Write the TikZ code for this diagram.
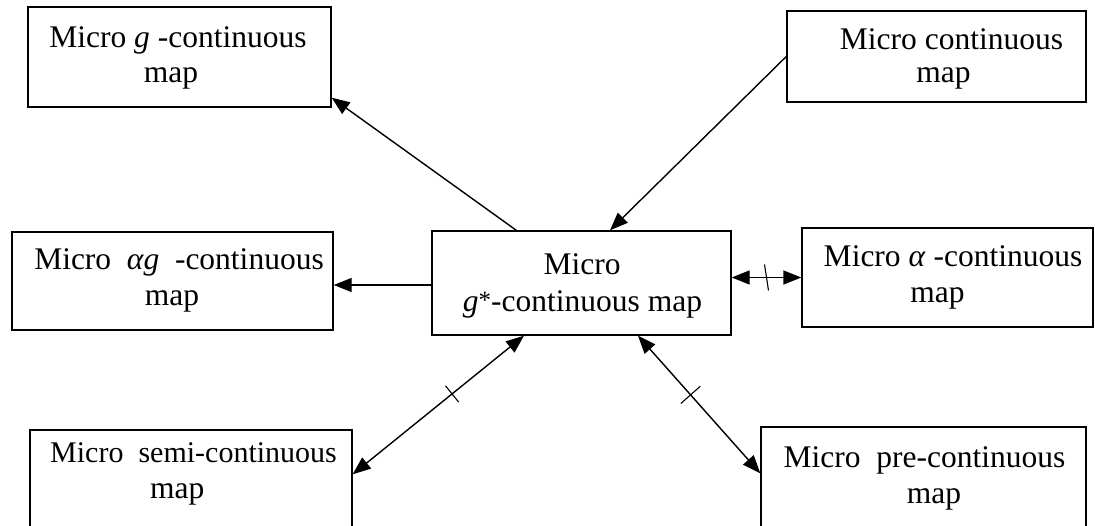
\documentclass[tikz,border=0pt]{standalone}
\usepackage{fontspec}
\setmainfont{Liberation Serif}
\usetikzlibrary{arrows.meta,calc}
\begin{document}
\begin{tikzpicture}[x=1pt,y=-1pt,
  box/.style={draw, line width=1.4pt, inner sep=0pt},
  txt/.style={inner sep=0pt, anchor=base, font=\fontsize{31.5}{37}\selectfont},
  txtl/.style={txt, anchor=base west},
  arr/.style={line width=1.4pt, -{Triangle[length=18pt,width=14pt]}},
  darr/.style={line width=1.4pt, {Triangle[length=18pt,width=14pt]}-{Triangle[length=18pt,width=14pt]}},
  tickmark/.style={line width=1.1pt}]
\clip (0,0) rectangle (1095,526);
% boxes
\node[box, minimum width=303pt, minimum height=100pt] (g) at (179.5,57) {};
\node[box, minimum width=299pt, minimum height=91pt] (cont) at (936.5,56.5) {};
\node[box, minimum width=321pt, minimum height=98pt] (ag) at (172.5,281) {};
\node[box, minimum width=299pt, minimum height=104pt] (c) at (581.5,283) {};
\node[box, minimum width=291pt, minimum height=99pt] (a) at (947.5,277.5) {};
\node[box, minimum width=322pt, minimum height=130pt] (semi) at (191,495) {};
\node[box, minimum width=325pt, minimum height=133pt] (pre) at (923.5,493.5) {};
% texts
\node[txt] (g1) at (178,48) {Micro \textit{g} -continuous};
\node[txt] (g2) at (171,83) {map};
\node[txt] (cont1) at (951.5,50) {Micro continuous};
\node[txt] (cont2) at (943.5,83) {map};
\node[txt] (ag1) at (179,270) {Micro\ \ \textit{αg}\ \ -continuous};
\node[txt] (ag2) at (172,306) {map};
\node[txt] (c1) at (582,275) {Micro};
\node[txt] (c2) at (582.5,312) {\textit{g}\raisebox{0.12em}{\fontsize{25}{25}\selectfont *}-continuous map};
\node[txt] (a1) at (953,267) {Micro \textit{α} -continuous};
\node[txt] (a2) at (937.5,303) {map};
\node[txtl, font=\fontsize{30}{36}\selectfont] (semi1) at (50,462) {Micro\ \ semi-continuous};
\node[txtl] (semi2) at (150,498) {map};
\node[txt] (pre1) at (924.5,467) {Micro\ \ pre-continuous};
\node[txt] (pre2) at (934,503) {map};
% connectors
\draw[arr] ([xshift=85pt]c.north west) -- ([yshift=10pt]g.south east);
\draw[arr] (cont.west) -- ([xshift=28.5pt]c.north);
\draw[arr] ([yshift=-2pt]c.west) -- ([yshift=-2pt]c.west -| ag.east);
\draw[darr] (c.east |- a.west) -- coordinate (t1) (a.west);
\draw[tickmark] ($(t1)+(-2,-13)$) -- ($(t1)+(2,13)$);
\draw[darr] ([xshift=-57.5pt]c.south) -- coordinate[pos=0.42] (t2) ([yshift=-45pt]semi.north east);
\draw[tickmark] ($(t2)!10.5pt!90:([yshift=-45pt]semi.north east)$) -- ($(t2)!10.5pt!-90:([yshift=-45pt]semi.north east)$);
\draw[darr] ([xshift=56.5pt]c.south) -- coordinate[pos=0.43] (t3) ([yshift=-47pt]pre.north west);
\draw[tickmark] ($(t3)!13pt!90:([yshift=-47pt]pre.north west)$) -- ($(t3)!13pt!-90:([yshift=-47pt]pre.north west)$);
\end{tikzpicture}
\end{document}
